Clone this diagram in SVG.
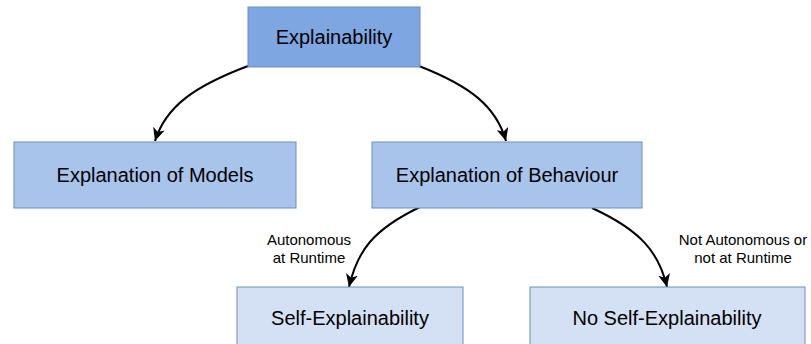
<svg xmlns="http://www.w3.org/2000/svg" width="811" height="344" viewBox="0 0 811 344">
<style>
.box{stroke:#6C8EBF;stroke-width:1}
.l1{fill:#7EA6E0}.l2{fill:#A9C4EB}.l3{fill:#D4E1F5}
.t{font-family:"Liberation Sans",Arial,sans-serif;font-size:20px;fill:#000;text-anchor:middle}
.lab{font-family:"Liberation Sans",Arial,sans-serif;font-size:15px;fill:#000;text-anchor:middle}
.edge{fill:none;stroke:#000;stroke-width:2;marker-end:url(#arr)}
</style>
<defs>
<marker id="arr" markerUnits="userSpaceOnUse" markerWidth="14" markerHeight="12" viewBox="0 0 14 12" refX="13" refY="6" orient="auto">
<path d="M0,0 L13,6 L0,12 L3.5,6 Z" fill="#000"/>
</marker>
</defs>
<g id="connectors">
<path class="edge" d="M248,66 C195,86 166,106 155,141"/>
<path class="edge" d="M419,66 C470,86 496,106 506,141"/>
<path class="edge" d="M420,207 C372,230 357,252 349,287"/>
<path class="edge" d="M592,208 C640,230 659,252 667,287"/>
</g>
<g id="explainability"><rect class="box l1" x="248" y="7" width="172" height="60"/><text class="t" x="334" y="44">Explainability</text></g>
<g id="models"><rect class="box l2" x="14" y="142" width="282" height="66"/><text class="t" x="155" y="182">Explanation of Models</text></g>
<g id="behaviour"><rect class="box l2" x="372" y="142" width="270" height="66"/><text class="t" x="507" y="182">Explanation of Behaviour</text></g>
<g id="self"><rect class="box l3" x="237" y="287" width="226" height="70"/><text class="t" x="350" y="325">Self-Explainability</text></g>
<g id="noself"><rect class="box l3" x="530" y="287" width="275" height="70"/><text class="t" x="667" y="325">No Self-Explainability</text></g>
<g id="labels">
<text class="lab" x="309" y="245">Autonomous</text>
<text class="lab" x="309" y="263">at Runtime</text>
<text class="lab" x="743" y="245">Not Autonomous or</text>
<text class="lab" x="743" y="263">not at Runtime</text>
</g>
</svg>
